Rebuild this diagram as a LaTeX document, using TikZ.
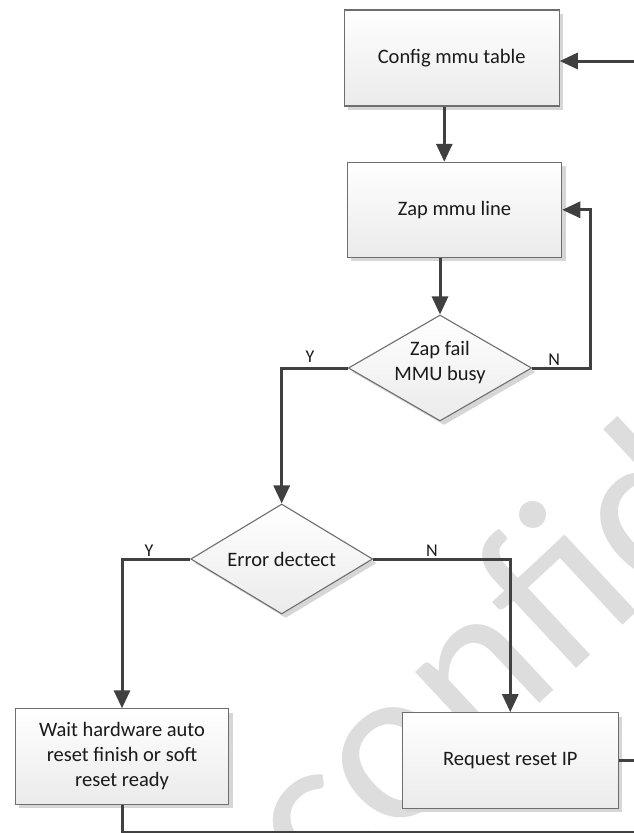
\documentclass[tikz,border=0pt]{standalone}
\usepackage{fontspec}
\setmainfont{Carlito}
\usetikzlibrary{arrows.meta,shapes.geometric,shadows,calc}
\definecolor{linec}{HTML}{404040}
\definecolor{boxborder}{HTML}{6E6E6E}
\definecolor{shadowc}{HTML}{D6D6D6}
\definecolor{wmark}{HTML}{DDDDDD}
\definecolor{txtc}{HTML}{1A1A1A}
\begin{document}
\begin{tikzpicture}[x=1pt,y=-1pt,
  shapebase/.style={draw=boxborder, line width=1.1pt, top color=white, bottom color=black!8,
    drop shadow={shadow xshift=4pt, shadow yshift=-4pt, fill=shadowc, opacity=1}, inner sep=0pt},
  proc/.style={shapebase, rectangle, align=center, text=txtc, font=\fontsize{20.5}{25}\selectfont},
  dec/.style={shapebase, diamond},
  dectext/.style={align=center, text=txtc, inner sep=0pt, font=\fontsize{20.5}{25}\selectfont},
  conn/.style={draw=linec, line width=3pt},
  arr/.style={conn, -{Triangle[length=18pt,width=16pt]}},
  lab/.style={font=\fontsize{18}{20}\selectfont, inner sep=0pt, text=txtc},
  wm/.style={text=wmark, inner sep=0pt, font=\fontsize{225}{225}\selectfont}
]
\useasboundingbox (0,0) rectangle (633,833);
\fill[white] (0,0) rectangle (633,833);
% watermark
\begin{scope}
  \clip (0,0) rectangle (633,833);
  \node[wm, anchor=base west, rotate=43] (wmk) at (322,906) {conf{}id};
\end{scope}
% nodes
\node[proc, minimum width=215pt, minimum height=96pt] (cfg) at (451.7,58) {Config mmu table};
\node[proc, minimum width=214.4pt, minimum height=95pt] (zap) at (454.5,209.8) {Zap mmu line};
\node[dec, minimum width=183.4pt, minimum height=106pt] (zd) at (440,368) {};
\node[dectext] (zdt) at (440,363) {Zap fail\\MMU busy};
\node[dec, minimum width=182pt, minimum height=110pt] (ed) at (281.7,559) {};
\node[dectext] (edt) at (281.7,559) {Error dectect};
\node[proc, minimum width=213.4pt, minimum height=95.3pt] (wait) at (122,756.5) {Wait hardware auto\\reset finish or soft\\reset ready};
\node[proc, minimum width=216pt, minimum height=95.6pt] (req) at (510.3,760.5) {Request reset IP};
% connectors
\coordinate (in1) at (636,61);
\draw[arr] (in1) -- (in1 -| cfg.east);
\draw[arr] ([xshift=-7.4pt]cfg.south) -- ([xshift=-7.4pt]cfg.south |- zap.north);
\draw[arr] (zap.south -| zd.north) -- (zd.north);
\draw[arr] (zd.east) -| ([xshift=28.3pt]zap.east) -- (zap.east);
\draw[arr] (zd.west) -| (ed.north);
\draw[arr] (ed.west) -| (wait.north);
\draw[arr] (ed.east) -| (req.north);
\coordinate (out1) at (636,760.5);
\draw[conn] (req.east) -- (out1);
\coordinate (bot) at (636,832);
\draw[conn] (wait.south) |- (bot);
% labels
\node[lab, anchor=base] (ln1) at (554.3,365.5) {N};
\node[lab, anchor=base] (ly1) at (310,362.5) {Y};
\node[lab, anchor=base] (ly2) at (149,556) {Y};
\node[lab, anchor=base] (ln2) at (432,556) {N};
\end{tikzpicture}
\end{document}
